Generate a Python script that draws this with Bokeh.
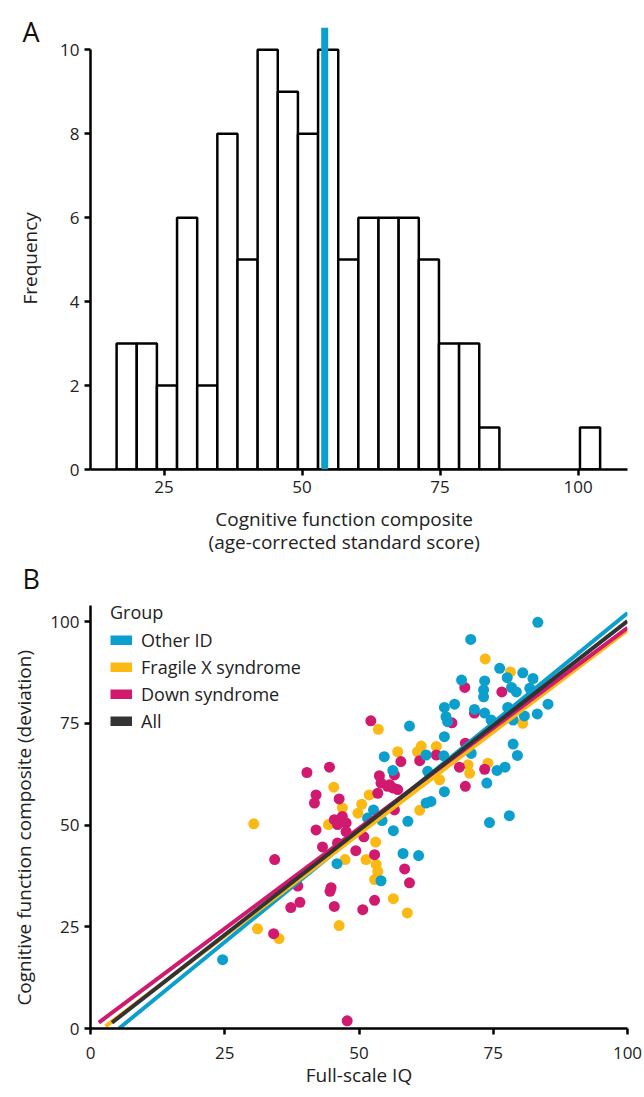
from bokeh.plotting import figure
from bokeh.models import ColumnDataSource, FixedTicker, Legend, LegendItem, Span
from bokeh.layouts import column
from bokeh.embed import file_html
from bokeh.resources import INLINE

FONT = "Open Sans"
NBSP = "\u00a0"

# ---------------- Panel A data ----------------
bin_start = 16.4
bin_width = 3.65
bin_counts = [3, 3, 2, 6, 2, 8, 5, 10, 9, 8, 10, 5, 6, 6, 6, 5, 3, 3, 1, 0, 0, 0, 0, 1]
marker_value = 54.1
hist_x_ticks = [25, 50, 75, 100]
hist_y_ticks = [0, 2, 4, 6, 8, 10]

# ---------------- Panel B data ----------------
groups = ["Other ID", "Fragile X syndrome", "Down syndrome", "All"]
colors = ["#0a9fcd", "#fdb913", "#d0196f", "#333333"]

other_x = [24.6, 70.8, 83.3, 76.2, 80.5, 82.4, 69.1, 73.4, 77.6, 78.4, 79.3, 73.2, 73.2, 81.8,
           65.9, 67.8, 71.5, 73.4, 66.2, 66.5, 77.7, 74.6, 78.7, 80.8, 83.2, 85.2, 65.9, 78.7,
           79.5, 70.9, 75.7, 77.2, 73.8, 65.9, 74.3, 78.0, 63.4, 59.4, 54.7, 56.3, 52.7, 62.5,
           62.5, 51.6, 59.1, 54.3, 56.4, 45.9, 58.2, 61.1, 54.1, 62.8, 65.8]
other_y = [16.9, 95.6, 99.8, 88.5, 87.4, 86.0, 85.6, 85.4, 86.2, 83.8, 82.7, 83.2, 81.5, 83.6,
           78.9, 79.7, 78.4, 77.5, 76.6, 75.4, 78.9, 75.8, 75.8, 76.8, 77.3, 79.7, 71.7, 69.9,
           67.1, 67.6, 63.4, 64.2, 60.3, 58.2, 50.6, 52.3, 55.8, 74.3, 66.8, 63.4, 53.7, 67.2,
           55.4, 51.7, 50.9, 51.1, 48.6, 40.5, 43.0, 42.5, 36.3, 63.2, 67.0]

fragile_x = [53.6, 57.2, 61.6, 60.9, 45.3, 51.9, 50.5, 49.8, 46.9, 61.3, 44.3, 73.5, 78.2, 80.5,
             64.4, 70.3, 70.6, 65.0, 74.0, 53.1, 47.4, 51.3, 53.2, 53.5, 52.9, 56.4, 59.0, 46.3,
             31.1, 35.1, 30.4]
fragile_y = [73.5, 68.0, 69.4, 68.0, 59.3, 57.4, 55.1, 52.9, 54.2, 53.6, 50.1, 90.8, 87.6, 75.0,
             69.3, 64.8, 62.7, 61.1, 65.2, 45.8, 41.5, 41.5, 40.3, 38.6, 36.6, 31.9, 28.4, 25.3,
             24.5, 22.1, 50.3]

down_x = [52.2, 57.8, 61.3, 40.3, 44.5, 42.0, 41.7, 46.3, 53.8, 56.6, 55.3, 56.3, 57.2, 45.4,
          46.9, 47.6, 46.0, 53.5, 56.6, 42.0, 69.7, 76.6, 71.5, 67.3, 69.8, 64.4, 68.7, 73.4,
          69.8, 54.1, 55.7, 47.6, 46.0, 50.9, 49.4, 52.9, 58.5, 59.4, 52.9, 50.7, 44.8, 45.4,
          47.8, 43.2, 38.6, 44.6, 39.0, 37.3, 34.3, 34.1]
down_y = [75.6, 65.6, 65.8, 62.9, 64.2, 57.4, 55.4, 56.4, 62.1, 62.3, 59.5, 59.1, 58.7, 51.3,
          52.1, 50.5, 50.1, 57.8, 53.7, 48.8, 83.8, 82.7, 77.5, 75.1, 70.1, 67.2, 64.2, 63.7,
          59.5, 60.3, 59.9, 48.4, 45.6, 47.1, 43.7, 42.7, 39.2, 35.8, 31.5, 29.2, 34.6, 30.0,
          1.9, 44.6, 35.0, 33.7, 31.0, 29.7, 41.5, 23.3]

# fitted regression lines: Other ID, Fragile X, Down, All
fit_slope = [1.078, 1.002, 0.985, 1.028]
fit_intercept = [-5.7, -2.3, -0.06, -2.68]
fit_x_start = [5.3, 2.8, 1.55, 4.0]
fit_x_end = [100, 100, 100, 100]

scatter_ticks = [0, 25, 50, 75, 100]


def style_axes(p):
    for ax in (p.xaxis[0], p.yaxis[0]):
        ax.axis_line_width = 2.5
        ax.axis_line_color = "black"
        ax.major_tick_line_width = 2.5
        ax.major_tick_line_color = "black"
        ax.major_tick_out = 6
        ax.major_tick_in = 0
        ax.minor_tick_line_color = None
        ax.major_label_text_font = FONT
        ax.major_label_text_font_size = "17px"
        ax.major_label_text_color = "#222222"
        ax.axis_label_text_font = FONT
        ax.axis_label_text_font_size = "19px"
        ax.axis_label_text_font_style = "normal"
        ax.axis_label_text_color = "#222222"
    p.xgrid.grid_line_color = None
    p.ygrid.grid_line_color = None
    p.outline_line_color = None


def panel_letter(p, letter, offset, standoff):
    p.title.text = letter
    p.title.text_font = FONT
    p.title.text_font_size = "27px"
    p.title.text_font_style = "normal"
    p.title.text_color = "#111111"
    p.title.align = "left"
    p.title.offset = offset
    p.title.standoff = standoff


# ---------------- Panel A ----------------
pA = figure(width=644, height=557, x_range=(11.67, 108.96), y_range=(0, 10.53),
            output_backend="svg", toolbar_location=None,
            min_border_left=88, min_border_right=16, min_border_top=27, min_border_bottom=86)
panel_letter(pA, "A", -68, -44)

lefts, rights, tops = [], [], []
for i, c in enumerate(bin_counts):
    if c > 0:
        lefts.append(bin_start + i * bin_width)
        rights.append(bin_start + (i + 1) * bin_width)
        tops.append(c)
hist_src = ColumnDataSource(dict(left=lefts, right=rights, top=tops, bottom=[0] * len(tops)))
pA.quad(left="left", right="right", top="top", bottom="bottom", source=hist_src,
        fill_color="white", line_color="black", line_width=2.5)

pA.add_layout(Span(location=marker_value, dimension="height", line_color=colors[0], line_width=7))

style_axes(pA)
pA.xaxis.ticker = FixedTicker(ticks=hist_x_ticks)
pA.yaxis.ticker = FixedTicker(ticks=hist_y_ticks)
pA.yaxis.bounds = (0, 10)
pA.xaxis.axis_label = ("Cognitive function composite" + NBSP * 6 + "\n"
                       + "(age-corrected standard score)" + NBSP * 6)
pA.xaxis.axis_label_text_line_height = 0.9
pA.yaxis.axis_label = "Frequency" + NBSP * 4
pA.xaxis.axis_label_standoff = 10
pA.yaxis.axis_label_standoff = 14

# ---------------- Panel B ----------------
pB = figure(width=644, height=533, x_range=(0, 100), y_range=(0, 105.9),
            output_backend="svg", toolbar_location=None,
            min_border_left=90, min_border_right=17, min_border_top=40, min_border_bottom=61)
panel_letter(pB, "B", -68, 1)

pB.scatter(fragile_x, fragile_y, size=11, color=colors[1], line_color=None)
pB.scatter(down_x, down_y, size=11, color=colors[2], line_color=None)
pB.scatter(other_x, other_y, size=11, color=colors[0], line_color=None)

for gi in [0, 1, 2, 3]:
    xs = [fit_x_start[gi], fit_x_end[gi]]
    ys = [fit_intercept[gi] + fit_slope[gi] * v for v in xs]
    pB.line(xs, ys, line_color=colors[gi], line_width=4)

# legend swatches (renderers without visible data)
items = []
for g, c in zip(groups, colors):
    r = pB.line(x=[float("nan")], y=[float("nan")], line_color=c, line_width=10)
    items.append(LegendItem(label=g, renderers=[r]))
legend = Legend(items=items, location=(20, 295), title="Group",
                title_text_font=FONT, title_text_font_size="18px", title_text_font_style="normal",
                title_text_color="#222222", title_standoff=4,
                label_text_font=FONT, label_text_font_size="18px", label_text_color="#222222",
                label_height=20, spacing=3, glyph_width=22, glyph_height=10, label_standoff=9,
                padding=0, margin=0, border_line_color=None, background_fill_alpha=0)
pB.add_layout(legend)

style_axes(pB)
pB.xaxis.ticker = FixedTicker(ticks=scatter_ticks)
pB.yaxis.ticker = FixedTicker(ticks=scatter_ticks)
pB.yaxis.bounds = (0, 103.9)
pB.xaxis.major_label_standoff = 12
pB.xaxis.axis_label = "Full-scale IQ"
pB.yaxis.axis_label = "Cognitive function composite (deviation)" + NBSP * 6
pB.xaxis.axis_label_standoff = 0
pB.yaxis.axis_label_standoff = 10

layout = column(pA, pB, spacing=0)
open("out.html", "w").write(file_html(layout, INLINE))
